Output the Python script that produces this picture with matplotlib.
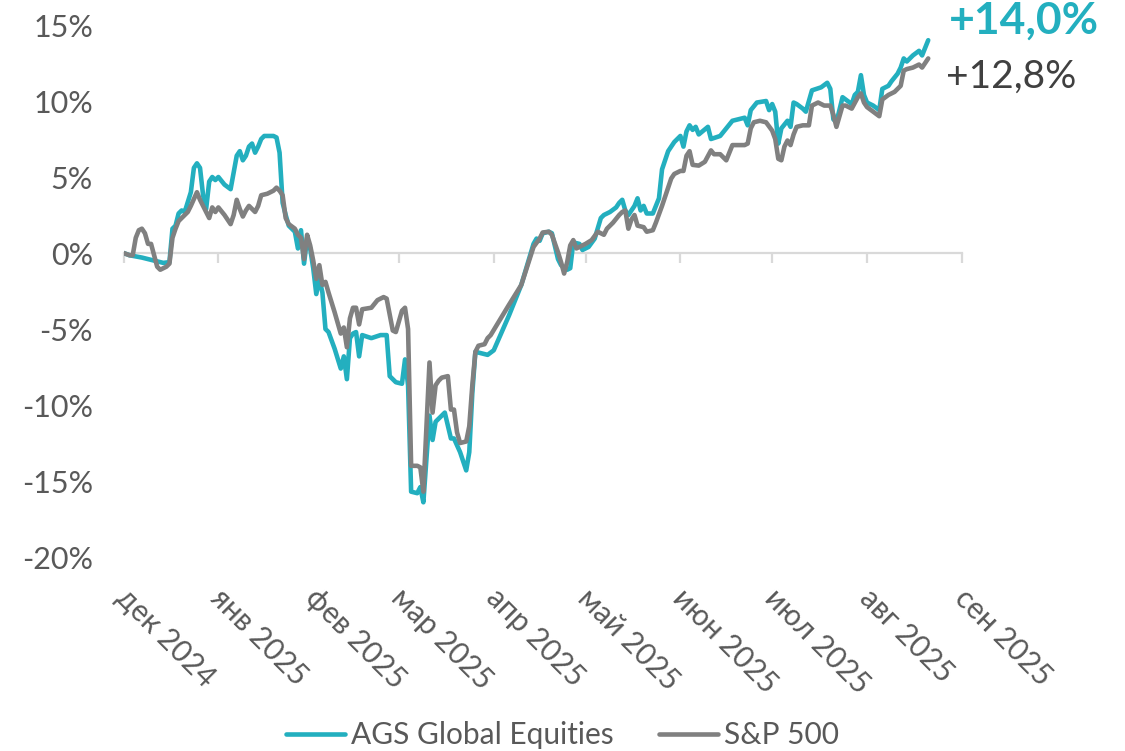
import matplotlib
matplotlib.use("Agg")
import matplotlib.pyplot as plt
import matplotlib.dates as mdates
from matplotlib.ticker import FuncFormatter
import pandas as pd

plt.rcParams['font.family'] = ['Lato', 'Open Sans', 'DejaVu Sans']

start_date = "2024-12-01"

ags_days = [0, 2, 6, 10, 13, 15, 16, 17, 18, 19, 20, 22, 23, 24, 25, 26, 27, 28, 29, 30, 31, 33, 35, 36, 37, 38, 39, 40, 41, 42, 43, 44, 45, 46, 49, 50, 51, 52, 53, 54, 56, 57, 58, 59, 60, 61, 62, 63, 64, 65, 66, 67, 69, 71, 72, 73, 74, 75, 76, 77, 78, 81, 84, 86, 87, 89, 91, 92, 93, 94, 96, 97, 98, 100, 101, 102, 103, 105, 107, 108, 110, 112, 113, 114, 115, 117, 119, 121, 126, 130, 134, 135, 136, 137, 139, 140, 142, 143, 145, 146, 147, 149, 150, 152, 154, 156, 157, 159, 161, 162, 163, 164, 165, 167, 168, 169, 170, 171, 173, 175, 176, 178, 180, 182, 183, 184, 185, 186, 187, 188, 191, 192, 195, 197, 199, 201, 203, 204, 205, 207, 210, 211, 212, 213, 214, 215, 217, 218, 219, 220, 222, 223, 225, 228, 230, 231, 232, 233, 235, 236, 238, 239, 240, 241, 242, 243, 245, 247, 248, 250, 251, 253, 254, 255, 256, 258, 260, 261, 263]
ags_values = [0.0, -0.15, -0.3, -0.5, -0.65, -0.6, 1.6, 1.8, 2.6, 2.8, 2.7, 4.0, 5.6, 5.9, 5.6, 3.8, 2.9, 4.7, 5.0, 4.8, 5.0, 4.5, 4.2, 5.3, 6.4, 6.7, 6.1, 6.4, 7.0, 7.2, 6.6, 7.0, 7.5, 7.7, 7.7, 7.6, 6.6, 3.3, 2.5, 1.8, 1.4, 0.3, 1.5, -0.7, 1.0, 0.3, -1.0, -2.7, -1.7, -2.6, -5.0, -5.2, -6.3, -7.6, -6.8, -8.3, -5.6, -5.3, -5.2, -6.8, -5.4, -5.6, -5.4, -5.4, -8.1, -8.5, -8.6, -7.0, -8.7, -15.7, -15.8, -15.4, -16.4, -10.7, -12.3, -11.1, -10.9, -10.5, -12.2, -12.2, -13.1, -14.3, -13.1, -9.2, -6.5, -6.6, -6.7, -6.4, -4.1, -2.1, 0.6, 0.95, 0.8, 1.3, 1.4, 1.3, -0.4, -0.8, -1.1, -1.0, 0.7, 0.6, 0.2, 0.4, 0.95, 2.3, 2.5, 2.7, 3.0, 3.3, 3.5, 2.8, 2.5, 3.1, 3.6, 2.8, 3.1, 2.6, 2.6, 3.6, 5.5, 6.7, 7.3, 7.7, 7.0, 8.0, 8.4, 8.1, 8.3, 7.8, 8.3, 7.5, 7.7, 8.2, 8.7, 8.8, 8.9, 8.4, 9.4, 9.9, 10.0, 9.4, 9.8, 9.3, 7.2, 8.2, 8.7, 8.3, 9.9, 9.8, 9.5, 9.3, 10.7, 10.9, 11.2, 10.8, 8.8, 8.6, 10.25, 10.1, 9.8, 10.4, 10.6, 11.7, 10.4, 9.9, 9.7, 9.4, 10.8, 11.0, 11.3, 11.8, 12.2, 12.8, 12.6, 13.0, 13.3, 13.0, 14.0]

spx_days = [0, 2, 3, 4, 5, 6, 7, 8, 9, 10, 11, 12, 14, 15, 16, 17, 18, 20, 21, 22, 24, 25, 27, 28, 29, 30, 31, 33, 35, 36, 37, 38, 39, 40, 41, 43, 44, 45, 47, 49, 50, 51, 52, 53, 54, 56, 57, 58, 59, 60, 61, 62, 63, 64, 65, 66, 67, 69, 71, 72, 73, 74, 75, 76, 77, 78, 81, 83, 85, 86, 88, 89, 90, 91, 92, 93, 94, 96, 97, 98, 100, 101, 102, 103, 104, 106, 107, 108, 109, 110, 112, 113, 114, 115, 116, 118, 119, 120, 126, 130, 134, 136, 137, 139, 140, 142, 143, 144, 145, 146, 147, 148, 149, 151, 153, 155, 157, 158, 160, 162, 163, 164, 165, 166, 167, 168, 170, 171, 173, 174, 176, 177, 179, 180, 182, 183, 184, 185, 186, 188, 190, 192, 193, 195, 197, 199, 201, 203, 204, 205, 206, 208, 210, 212, 213, 214, 215, 216, 217, 218, 219, 220, 222, 224, 225, 227, 229, 231, 232, 233, 235, 236, 238, 240, 241, 242, 243, 245, 247, 248, 250, 252, 254, 255, 256, 258, 260, 261, 263]
spx_values = [0.0, -0.15, -0.15, 1.0, 1.5, 1.6, 1.3, 0.6, 0.6, -0.15, -0.9, -1.1, -0.9, -0.7, 1.0, 1.6, 2.1, 2.5, 2.7, 3.1, 4.0, 3.5, 2.7, 2.3, 3.0, 2.7, 3.0, 2.5, 1.9, 2.5, 3.5, 2.9, 2.4, 2.8, 3.1, 2.7, 3.1, 3.8, 3.9, 4.1, 4.3, 4.1, 3.8, 2.3, 1.9, 1.6, 1.2, 1.0, -0.4, 1.2, 0.5, -0.5, -1.7, -0.8, -2.1, -1.9, -2.6, -3.9, -5.3, -4.9, -6.2, -4.3, -3.6, -3.6, -4.7, -3.7, -3.6, -3.1, -2.9, -3.0, -5.1, -5.2, -4.5, -3.8, -3.6, -5.0, -14.0, -14.0, -14.1, -15.7, -7.2, -10.5, -8.7, -8.4, -8.2, -8.1, -10.3, -10.3, -11.8, -12.5, -12.4, -11.4, -8.7, -6.5, -6.1, -6.0, -5.6, -5.4, -3.4, -2.1, 0.4, 0.95, 1.35, 1.4, 1.2, 0.05, -0.6, -1.35, -0.6, 0.5, 0.85, 0.3, 0.4, 0.6, 0.85, 1.4, 1.2, 1.6, 2.0, 2.5, 2.7, 2.8, 1.6, 2.2, 2.5, 1.8, 1.7, 1.4, 1.5, 2.0, 3.1, 3.7, 4.9, 5.2, 5.4, 5.4, 6.4, 6.7, 5.8, 5.75, 6.0, 6.75, 6.5, 6.5, 6.1, 7.1, 7.1, 7.1, 7.2, 8.2, 8.6, 8.7, 8.6, 8.05, 7.5, 6.2, 6.1, 7.0, 7.4, 7.1, 7.8, 8.3, 8.4, 8.4, 9.7, 9.9, 9.7, 9.7, 9.1, 8.3, 9.7, 9.7, 9.5, 10.25, 10.5, 9.9, 9.6, 9.3, 9.0, 10.1, 10.4, 10.6, 11.0, 12.0, 12.1, 12.2, 12.4, 12.2, 12.8]

series_names = ["AGS Global Equities", "S&P 500"]
month_labels = ["дек 2024", "янв 2025", "фев 2025", "мар 2025", "апр 2025",
                "май 2025", "июн 2025", "июл 2025", "авг 2025", "сен 2025"]
y_ticks = [15, 10, 5, 0, -5, -10, -15, -20]

TEAL = "#23afbf"
GRAY = "#808080"
LABEL = "#595959"

start = pd.Timestamp(start_date)
ags_dates = start + pd.to_timedelta(ags_days, unit="D")
spx_dates = start + pd.to_timedelta(spx_days, unit="D")
month_dates = pd.date_range(start, periods=len(month_labels), freq="MS")

fig = plt.figure(figsize=(11.25, 7.51), dpi=100)
ax = fig.add_axes([0.1098, 0.2583, 0.7452, 0.7084])

ax.plot(ags_dates, ags_values, color=TEAL, lw=3.3, solid_joinstyle="round",
        solid_capstyle="round", label=series_names[0], zorder=3)
ax.plot(spx_dates, spx_values, color=GRAY, lw=3.3, solid_joinstyle="round",
        solid_capstyle="round", label=series_names[1], zorder=4)

ax.set_xlim(month_dates[0], month_dates[-1])
ax.set_ylim(min(y_ticks), max(y_ticks))

for s in ["top", "right", "left"]:
    ax.spines[s].set_visible(False)
ax.spines["bottom"].set_position(("data", 0))
ax.spines["bottom"].set_color("#d9d9d9")
ax.spines["bottom"].set_linewidth(1.6)
ax.spines["bottom"].set_zorder(1)

ax.set_xticks(month_dates)
ax.tick_params(axis="x", length=7.5, width=1.6, color="#d9d9d9", labelbottom=False)

ax.set_yticks(y_ticks)
ax.yaxis.set_major_formatter(FuncFormatter(lambda v, p: f"{v:.0f}%"))
ax.tick_params(axis="y", length=0, pad=22, labelsize=22, labelcolor=LABEL)

xt = ax.get_xaxis_transform()
for d, lab in zip(month_dates, month_labels):
    ax.annotate(lab, xy=(mdates.date2num(d), 0), xycoords=xt, xytext=(5, -19),
                textcoords="offset points", rotation=-45, rotation_mode="anchor",
                ha="left", va="top", fontsize=21.5, color=LABEL,
                annotation_clip=False)

last_ags = ags_values[-1]
last_spx = spx_values[-1]
ax.annotate(f"+{last_ags:.1f}%".replace(".", ","), xy=(ags_dates[-1], last_ags),
            xytext=(15, 14), textcoords="offset points", ha="left", va="center",
            fontsize=32, fontweight="bold", color=TEAL, annotation_clip=False)
ax.annotate(f"+{last_spx:.1f}%".replace(".", ","), xy=(spx_dates[-1], last_spx),
            xytext=(13, -13), textcoords="offset points", ha="left", va="center",
            fontsize=28, color="#404040", annotation_clip=False)

fig.legend(loc="center", bbox_to_anchor=(0.5, 0.021), ncol=2, frameon=False,
           fontsize=21.5, handlelength=2.0, handletextpad=0.2, columnspacing=1.5,
           labelcolor=LABEL)

fig.savefig("out.png", dpi=100)
